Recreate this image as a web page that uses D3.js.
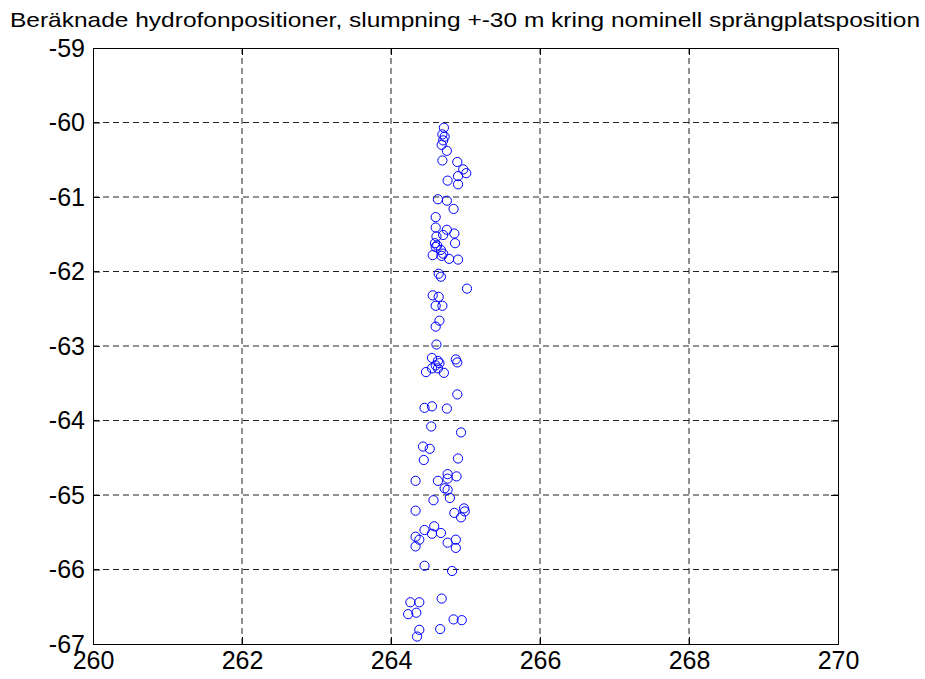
<!DOCTYPE html>
<html>
<head>
<meta charset="utf-8">
<script src="https://cdn.jsdelivr.net/npm/d3@7"></script>
<style>
body { margin: 0; background: #fff; }
text { font-family: "Liberation Sans", Arial, sans-serif; }
</style>
</head>
<body>
<svg width="925" height="679"></svg>
<script>
var title = "Beräknade hydrofonpositioner, slumpning +-30 m kring nominell sprängplatsposition";
var xTicks = [260, 262, 264, 266, 268, 270];
var yTicks = [-67, -66, -65, -64, -63, -62, -61, -60, -59];

// hydrophone positions
var xs = [264.71, 264.69, 264.72, 264.70, 264.68, 264.75, 264.69, 264.89, 264.97, 265.01,
    264.90, 264.76, 264.90, 264.63, 264.75, 264.84, 264.60, 264.60, 264.75, 264.85,
    264.61, 264.70, 264.86, 264.59, 264.62, 264.60, 264.67, 264.70, 264.56, 264.68,
    264.78, 264.90, 264.64, 264.67, 265.02, 264.56, 264.64, 264.60, 264.69, 264.65,
    264.60, 264.61, 264.55, 264.63, 264.65, 264.87, 264.89, 264.60, 264.55, 264.63,
    264.47, 264.71, 264.89, 264.45, 264.55, 264.75, 264.54, 264.94, 264.43, 264.52,
    264.44, 264.90, 264.33, 264.63, 264.76, 264.76, 264.88, 264.72, 264.76, 264.57,
    264.79, 264.33, 264.85, 264.98, 264.99, 264.94, 264.45, 264.58, 264.55, 264.67,
    264.33, 264.38, 264.33, 264.76, 264.87, 264.87, 264.45, 264.82, 264.26, 264.38,
    264.68, 264.23, 264.34, 264.84, 264.95, 264.38, 264.66, 264.35];
var ys = [-60.07, -60.16, -60.19, -60.24, -60.30, -60.38, -60.51, -60.53, -60.63, -60.68,
    -60.72, -60.78, -60.83, -61.03, -61.05, -61.16, -61.27, -61.41, -61.44, -61.49,
    -61.53, -61.51, -61.62, -61.62, -61.65, -61.67, -61.71, -61.76, -61.78, -61.79,
    -61.83, -61.84, -62.03, -62.07, -62.23, -62.32, -62.34, -62.46, -62.46, -62.66,
    -62.74, -62.98, -63.16, -63.20, -63.23, -63.18, -63.22, -63.26, -63.30, -63.30,
    -63.35, -63.36, -63.65, -63.83, -63.81, -63.84, -64.08, -64.16, -64.35, -64.38,
    -64.53, -64.51, -64.81, -64.81, -64.72, -64.78, -64.75, -64.91, -64.93, -65.07,
    -65.04, -65.21, -65.24, -65.18, -65.22, -65.30, -65.47, -65.42, -65.52, -65.51,
    -65.56, -65.60, -65.69, -65.64, -65.60, -65.71, -65.95, -66.02, -66.44, -66.44,
    -66.39, -66.60, -66.58, -66.67, -66.68, -66.81, -66.80, -66.90];

var svg = d3.select("svg");
var pL = 93, pR = 838, pT = 48, pB = 644;

var x = d3.scaleLinear().domain([260, 270]).range([pL, pR]);
var y = d3.scaleLinear().domain([-67, -59]).range([pB, pT]);

// plain hyphen minus like the original, not the unicode minus d3 uses
var fmt = function(d) { return String(d); };

// grid
var grid = svg.append("g").attr("class", "grid");
grid.selectAll("line.gx").data(xTicks.slice(1, -1)).enter().append("line")
    .attr("x1", function(d) { return x(d); })
    .attr("x2", function(d) { return x(d); })
    .attr("y1", pT)
    .attr("y2", pB);
grid.selectAll("line.gy").data(yTicks.slice(1, -1)).enter().append("line")
    .attr("x1", pL)
    .attr("x2", pR)
    .attr("y1", function(d) { return y(d); })
    .attr("y2", function(d) { return y(d); });
grid.selectAll("line")
    .attr("stroke", "#222")
    .attr("stroke-width", 1)
    .attr("stroke-dasharray", "6,4");

// axes, ticks inward on all four sides
var tk = 7;
svg.append("g").attr("transform", "translate(0," + pB + ")")
    .call(d3.axisBottom(x).tickValues(xTicks).tickSize(-tk).tickPadding(7).tickFormat(fmt));
svg.append("g").attr("transform", "translate(0," + pT + ")")
    .call(d3.axisTop(x).tickValues(xTicks).tickSize(-tk).tickFormat(""));
svg.append("g").attr("transform", "translate(" + pL + ",0)")
    .call(d3.axisLeft(y).tickValues(yTicks).tickSize(-tk).tickPadding(8).tickFormat(fmt));
svg.append("g").attr("transform", "translate(" + pR + ",0)")
    .call(d3.axisRight(y).tickValues(yTicks).tickSize(-tk).tickFormat(""));

svg.selectAll(".domain").attr("stroke", "#000").attr("stroke-width", 1);
svg.selectAll(".tick line").attr("stroke", "#000");
svg.selectAll(".tick text")
    .attr("fill", "#000")
    .style("font-size", "25px")
    .style("font-family", "'Liberation Sans', Arial, sans-serif");

// points
svg.append("g").selectAll("circle").data(xs).enter().append("circle")
    .attr("cx", function(d) { return x(d); })
    .attr("cy", function(d, i) { return y(ys[i]); })
    .attr("r", 4.6)
    .attr("fill", "none")
    .attr("stroke", "#0000ff")
    .attr("stroke-width", 1);

svg.append("text")
    .attr("x", 10)
    .attr("y", 27)
    .attr("textLength", 910)
    .attr("lengthAdjust", "spacingAndGlyphs")
    .style("font-size", "21px")
    .text(title);
</script>
</body>
</html>
